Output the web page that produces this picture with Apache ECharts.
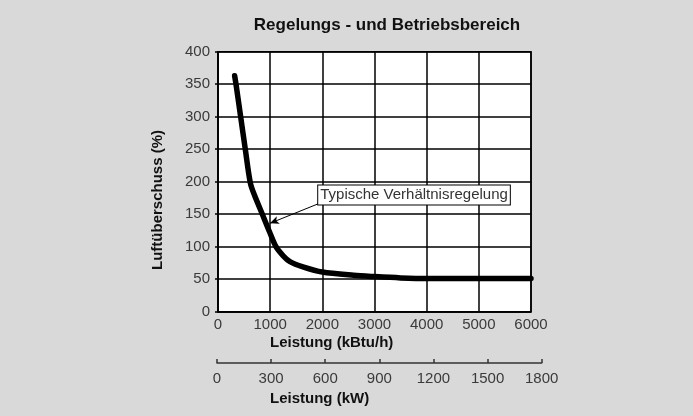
<!DOCTYPE html>
<html><head><meta charset="utf-8">
<script src="https://cdn.jsdelivr.net/npm/echarts@6/dist/echarts.min.js"></script>
<style>html,body{margin:0;padding:0;background:#d9d9d9}#c{width:693px;height:416px}</style>
</head><body><div id="c"></div>
<script>
// Data
const titleText = 'Regelungs - und Betriebsbereich';
const xKbtu = [319, 345, 434, 523, 620, 700, 850, 987, 1111, 1250, 1379, 1628, 2000, 2600, 3000, 3500, 4000, 5000, 6000];
const yExcess = [363, 350, 300, 250, 198, 179, 150, 123, 100, 86, 77, 69, 61, 56, 54, 52, 51, 51, 51];
const kbtuTicks = [0, 1000, 2000, 3000, 4000, 5000, 6000];
const kwTicks = [0, 300, 600, 900, 1200, 1500, 1800];
const excessTicks = [0, 50, 100, 150, 200, 250, 300, 350, 400];
const annotationText = 'Typische Verhältnisregelung';
const annotationBoxAt = [1921, 194];   // top-left corner of box, data coords
const arrowFrom = [1921, 166];
const arrowTo = [996, 136];

const FONT = '"Liberation Sans", Arial, Helvetica, sans-serif';
const chart = echarts.init(document.getElementById('c'), null, {renderer: 'canvas'});
const plain = v => String(v);
const labelStyle = {color: '#3a3a3a', fontFamily: FONT, fontSize: 15, formatter: plain};

const option = {
  backgroundColor: '#d9d9d9',
  animation: false,
  grid: [
    {left: 218, right: 162, top: 51.7, bottom: 104.3, show: true, backgroundColor: '#ffffff', borderColor: '#000', borderWidth: 1.5},
    {left: 217, right: 151.3, top: 362, height: 1, show: false}
  ],
  xAxis: [
    {type: 'value', gridIndex: 0, min: kbtuTicks[0], max: kbtuTicks[kbtuTicks.length-1], interval: 1000,
     axisLine: {show: true, lineStyle: {color: '#000', width: 1.5}},
     axisTick: {show: false},
     axisLabel: Object.assign({margin: 6}, labelStyle),
     splitLine: {show: true, lineStyle: {color: '#000', width: 1.5}}},
    {type: 'value', gridIndex: 1, min: kwTicks[0], max: kwTicks[kwTicks.length-1], interval: 300,
     axisLine: {show: true, onZero: false, lineStyle: {color: '#333', width: 1.5}},
     axisTick: {show: true, inside: true, length: 4, lineStyle: {color: '#333', width: 1.5}},
     axisLabel: Object.assign({margin: 8}, labelStyle),
     splitLine: {show: false}}
  ],
  yAxis: [
    {type: 'value', gridIndex: 0, min: excessTicks[0], max: excessTicks[excessTicks.length-1], interval: 50,
     axisLine: {show: true, lineStyle: {color: '#000', width: 1.5}},
     axisTick: {show: true, length: 3, lineStyle: {color: '#000', width: 1.5}},
     axisLabel: Object.assign({margin: 8}, labelStyle),
     splitLine: {show: true, lineStyle: {color: '#000', width: 1.5}}},
    {type: 'value', gridIndex: 1, min: 0, max: 1, show: false}
  ],
  series: [{
    type: 'line', xAxisIndex: 0, yAxisIndex: 0,
    data: xKbtu.map((x, i) => [x, yExcess[i]]),
    smooth: 0.3, showSymbol: false, symbol: 'none',
    lineStyle: {color: '#000', width: 5.5, cap: 'round', join: 'round'},
    markLine: {
      silent: true, animation: false,
      symbol: ['none', 'arrow'], symbolSize: [6, 9],
      label: {show: false},
      lineStyle: {color: '#000', width: 1, type: 'solid'},
      data: [[{coord: arrowFrom}, {coord: arrowTo}]]
    }
  }]
};
chart.setOption(option);

const boxPx = chart.convertToPixel({gridIndex: 0}, annotationBoxAt);
chart.setOption({
  graphic: [
    {type: 'text', x: 387, y: 25, z: 10,
     style: {text: titleText, fill: '#111', font: 'bold 17px ' + FONT, align: 'center', verticalAlign: 'middle'}},
    {type: 'text', x: 158, y: 200, rotation: Math.PI / 2, z: 10,
     style: {text: 'Luftüberschuss (%)', fill: '#111', font: 'bold 15px ' + FONT, align: 'center', verticalAlign: 'middle'}},
    {type: 'text', x: 270, y: 343, z: 10,
     style: {text: 'Leistung (kBtu/h)', fill: '#111', font: 'bold 15px ' + FONT, align: 'left', verticalAlign: 'middle'}},
    {type: 'text', x: 270, y: 399, z: 10,
     style: {text: 'Leistung (kW)', fill: '#111', font: 'bold 15px ' + FONT, align: 'left', verticalAlign: 'middle'}},
    {type: 'text', x: boxPx[0], y: boxPx[1], z: 20,
     style: {text: annotationText, fill: '#333', font: '15px ' + FONT, align: 'left', verticalAlign: 'top',
             backgroundColor: '#fff', borderColor: '#000', borderWidth: 1, padding: [2, 2, 2, 2]}}
  ]
});
</script></body></html>
